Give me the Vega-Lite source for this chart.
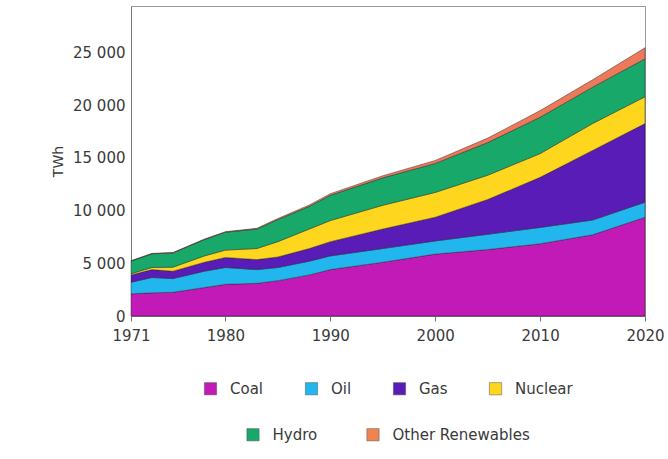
{
  "$schema": "https://vega.github.io/schema/vega-lite/v6.json",
  "width": 514,
  "height": 310,
  "autosize": {"type": "none"},
  "padding": {"left": 131, "top": 6, "right": 23, "bottom": 143},
  "background": "white",
  "data": {"values": [
    {"year": 1971, "fuel": "Coal", "k": 1, "twh": 2100}, {"year": 1971, "fuel": "Oil", "k": 2, "twh": 1100}, {"year": 1971, "fuel": "Gas", "k": 3, "twh": 700}, {"year": 1971, "fuel": "Nuclear", "k": 4, "twh": 110}, {"year": 1971, "fuel": "Hydro", "k": 5, "twh": 1200}, {"year": 1971, "fuel": "Other Renewables", "k": 6, "twh": 40},
    {"year": 1973, "fuel": "Coal", "k": 1, "twh": 2200}, {"year": 1973, "fuel": "Oil", "k": 2, "twh": 1450}, {"year": 1973, "fuel": "Gas", "k": 3, "twh": 750}, {"year": 1973, "fuel": "Nuclear", "k": 4, "twh": 200}, {"year": 1973, "fuel": "Hydro", "k": 5, "twh": 1300}, {"year": 1973, "fuel": "Other Renewables", "k": 6, "twh": 40},
    {"year": 1975, "fuel": "Coal", "k": 1, "twh": 2250}, {"year": 1975, "fuel": "Oil", "k": 2, "twh": 1300}, {"year": 1975, "fuel": "Gas", "k": 3, "twh": 700}, {"year": 1975, "fuel": "Nuclear", "k": 4, "twh": 380}, {"year": 1975, "fuel": "Hydro", "k": 5, "twh": 1350}, {"year": 1975, "fuel": "Other Renewables", "k": 6, "twh": 40},
    {"year": 1978, "fuel": "Coal", "k": 1, "twh": 2700}, {"year": 1978, "fuel": "Oil", "k": 2, "twh": 1550}, {"year": 1978, "fuel": "Gas", "k": 3, "twh": 850}, {"year": 1978, "fuel": "Nuclear", "k": 4, "twh": 600}, {"year": 1978, "fuel": "Hydro", "k": 5, "twh": 1550}, {"year": 1978, "fuel": "Other Renewables", "k": 6, "twh": 45},
    {"year": 1980, "fuel": "Coal", "k": 1, "twh": 3000}, {"year": 1980, "fuel": "Oil", "k": 2, "twh": 1600}, {"year": 1980, "fuel": "Gas", "k": 3, "twh": 950}, {"year": 1980, "fuel": "Nuclear", "k": 4, "twh": 700}, {"year": 1980, "fuel": "Hydro", "k": 5, "twh": 1700}, {"year": 1980, "fuel": "Other Renewables", "k": 6, "twh": 50},
    {"year": 1983, "fuel": "Coal", "k": 1, "twh": 3100}, {"year": 1983, "fuel": "Oil", "k": 2, "twh": 1300}, {"year": 1983, "fuel": "Gas", "k": 3, "twh": 950}, {"year": 1983, "fuel": "Nuclear", "k": 4, "twh": 1050}, {"year": 1983, "fuel": "Hydro", "k": 5, "twh": 1850}, {"year": 1983, "fuel": "Other Renewables", "k": 6, "twh": 70},
    {"year": 1985, "fuel": "Coal", "k": 1, "twh": 3350}, {"year": 1985, "fuel": "Oil", "k": 2, "twh": 1250}, {"year": 1985, "fuel": "Gas", "k": 3, "twh": 1000}, {"year": 1985, "fuel": "Nuclear", "k": 4, "twh": 1450}, {"year": 1985, "fuel": "Hydro", "k": 5, "twh": 2100}, {"year": 1985, "fuel": "Other Renewables", "k": 6, "twh": 100},
    {"year": 1988, "fuel": "Coal", "k": 1, "twh": 3900}, {"year": 1988, "fuel": "Oil", "k": 2, "twh": 1300}, {"year": 1988, "fuel": "Gas", "k": 3, "twh": 1200}, {"year": 1988, "fuel": "Nuclear", "k": 4, "twh": 1850}, {"year": 1988, "fuel": "Hydro", "k": 5, "twh": 2150}, {"year": 1988, "fuel": "Other Renewables", "k": 6, "twh": 130},
    {"year": 1990, "fuel": "Coal", "k": 1, "twh": 4400}, {"year": 1990, "fuel": "Oil", "k": 2, "twh": 1300}, {"year": 1990, "fuel": "Gas", "k": 3, "twh": 1350}, {"year": 1990, "fuel": "Nuclear", "k": 4, "twh": 2000}, {"year": 1990, "fuel": "Hydro", "k": 5, "twh": 2400}, {"year": 1990, "fuel": "Other Renewables", "k": 6, "twh": 150},
    {"year": 1995, "fuel": "Coal", "k": 1, "twh": 5100}, {"year": 1995, "fuel": "Oil", "k": 2, "twh": 1300}, {"year": 1995, "fuel": "Gas", "k": 3, "twh": 1850}, {"year": 1995, "fuel": "Nuclear", "k": 4, "twh": 2250}, {"year": 1995, "fuel": "Hydro", "k": 5, "twh": 2600}, {"year": 1995, "fuel": "Other Renewables", "k": 6, "twh": 200},
    {"year": 2000, "fuel": "Coal", "k": 1, "twh": 5870}, {"year": 2000, "fuel": "Oil", "k": 2, "twh": 1250}, {"year": 2000, "fuel": "Gas", "k": 3, "twh": 2250}, {"year": 2000, "fuel": "Nuclear", "k": 4, "twh": 2350}, {"year": 2000, "fuel": "Hydro", "k": 5, "twh": 2750}, {"year": 2000, "fuel": "Other Renewables", "k": 6, "twh": 280},
    {"year": 2005, "fuel": "Coal", "k": 1, "twh": 6300}, {"year": 2005, "fuel": "Oil", "k": 2, "twh": 1450}, {"year": 2005, "fuel": "Gas", "k": 3, "twh": 3300}, {"year": 2005, "fuel": "Nuclear", "k": 4, "twh": 2300}, {"year": 2005, "fuel": "Hydro", "k": 5, "twh": 3100}, {"year": 2005, "fuel": "Other Renewables", "k": 6, "twh": 420},
    {"year": 2010, "fuel": "Coal", "k": 1, "twh": 6850}, {"year": 2010, "fuel": "Oil", "k": 2, "twh": 1550}, {"year": 2010, "fuel": "Gas", "k": 3, "twh": 4750}, {"year": 2010, "fuel": "Nuclear", "k": 4, "twh": 2250}, {"year": 2010, "fuel": "Hydro", "k": 5, "twh": 3450}, {"year": 2010, "fuel": "Other Renewables", "k": 6, "twh": 630},
    {"year": 2015, "fuel": "Coal", "k": 1, "twh": 7700}, {"year": 2015, "fuel": "Oil", "k": 2, "twh": 1400}, {"year": 2015, "fuel": "Gas", "k": 3, "twh": 6600}, {"year": 2015, "fuel": "Nuclear", "k": 4, "twh": 2550}, {"year": 2015, "fuel": "Hydro", "k": 5, "twh": 3450}, {"year": 2015, "fuel": "Other Renewables", "k": 6, "twh": 700},
    {"year": 2020, "fuel": "Coal", "k": 1, "twh": 9360}, {"year": 2020, "fuel": "Oil", "k": 2, "twh": 1430}, {"year": 2020, "fuel": "Gas", "k": 3, "twh": 7460}, {"year": 2020, "fuel": "Nuclear", "k": 4, "twh": 2540}, {"year": 2020, "fuel": "Hydro", "k": 5, "twh": 3600}, {"year": 2020, "fuel": "Other Renewables", "k": 6, "twh": 1050}
  ]},
  "layer": [
    {
      "mark": {"type": "area", "stroke": "#1a1a1a", "strokeWidth": 0.6, "strokeOpacity": 0.7},
      "encoding": {
        "x": {"field": "year", "type": "quantitative",
          "scale": {"domain": [1971, 2020], "nice": false, "zero": false},
          "axis": {"title": null, "values": [1971, 1980, 1990, 2000, 2010, 2020], "format": "d", "grid": false, "tickSize": 5, "labelPadding": 7, "labelFlush": false}},
        "y": {"field": "twh", "type": "quantitative", "stack": "zero",
          "scale": {"domain": [0, 29400], "nice": false},
          "axis": {"title": "TWh", "values": [0, 5000, 10000, 15000, 20000, 25000], "grid": false, "tickSize": 0, "labelPadding": 6, "titlePadding": 7,
            "labelExpr": "replace(format(datum.value, ','), ',', ' ')"}},
        "fill": {"field": "fuel", "type": "nominal",
          "scale": {"domain": ["Coal", "Oil", "Gas", "Nuclear", "Hydro", "Other Renewables"],
                    "range": ["#C21AB6", "#22B6EE", "#5A1CB6", "#FFD61E", "#18A86A", "#EC7A5A"]},
          "legend": null},
        "order": {"field": "k", "type": "quantitative"}
      }
    },
    {
      "transform": [{"filter": "datum.k <= 4"}],
      "mark": {"type": "square", "clip": true, "filled": true, "opacity": 1},
      "encoding": {
        "x": {"field": "year", "type": "quantitative"},
        "y": {"datum": -5000},
        "fill": {"field": "fuel", "type": "nominal",
          "scale": {"domain": ["Coal", "Oil", "Gas", "Nuclear"], "range": ["#C21AB6", "#22B6EE", "#5A1CB6", "#FFD61E"]},
          "legend": {"orient": "bottom", "direction": "horizontal", "title": null, "offset": 38, "columnPadding": 40}}
      }
    },
    {
      "transform": [{"filter": "datum.k >= 5"}],
      "mark": {"type": "square", "clip": true, "filled": true, "opacity": 1},
      "encoding": {
        "x": {"field": "year", "type": "quantitative"},
        "y": {"datum": -5000},
        "fill": {"field": "fuel", "type": "nominal",
          "scale": {"domain": ["Hydro", "Other Renewables"], "range": ["#18A86A", "#F0844E"]},
          "legend": {"orient": "bottom", "direction": "horizontal", "title": null, "offset": 38, "columnPadding": 48}}
      }
    }
  ],
  "resolve": {"scale": {"fill": "independent"}},
  "config": {
    "view": {"stroke": "#9a9a9a", "strokeWidth": 1},
    "font": "DejaVu Sans",
    "axis": {"labelFont": "DejaVu Sans", "labelFontSize": 15, "labelColor": "#3a3a3a", "domainColor": "#777", "tickColor": "#777",
             "titleFont": "DejaVu Sans", "titleFontSize": 14, "titleFontWeight": "normal", "titleColor": "#3a3a3a"},
    "legend": {
      "labelFont": "DejaVu Sans", "labelFontSize": 15, "labelColor": "#3a3a3a",
      "symbolType": "square", "symbolSize": 150, "symbolStrokeWidth": 0.5, "symbolStrokeColor": "#555", "symbolOpacity": 1,
      "labelOffset": 12,
      "layout": {"bottom": {"anchor": "middle", "direction": "vertical", "center": true, "margin": 30}}
    }
  }
}
